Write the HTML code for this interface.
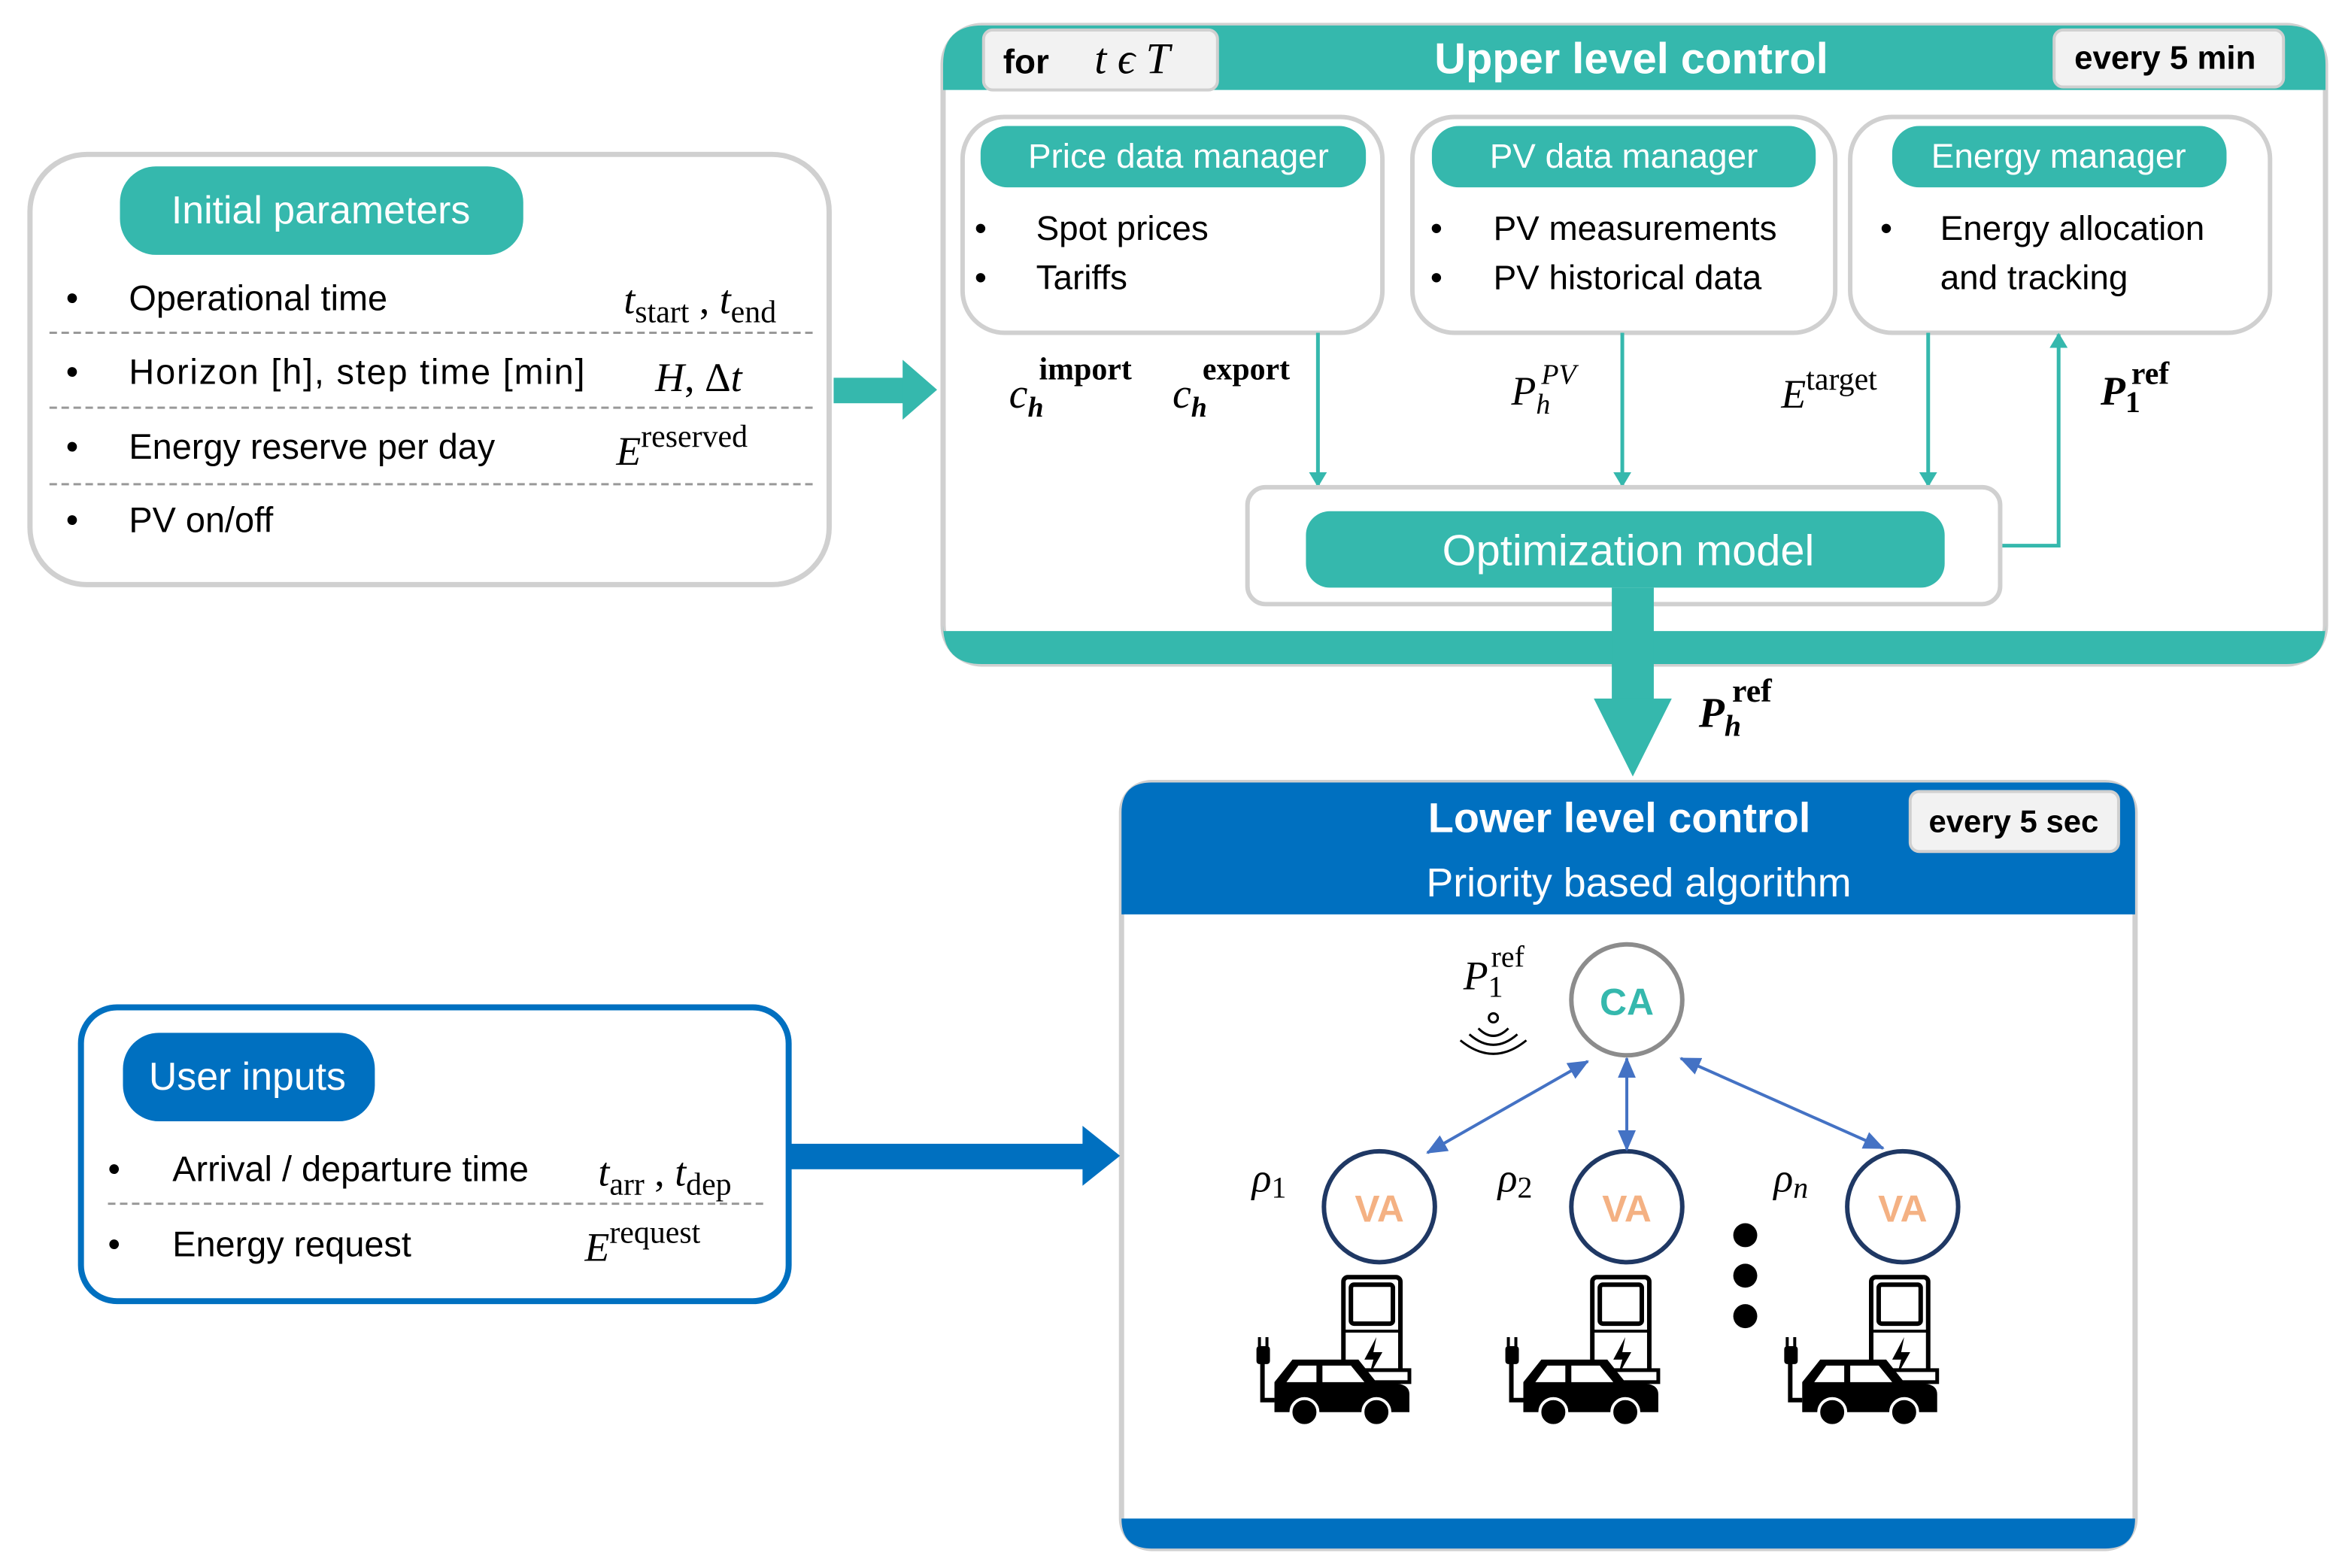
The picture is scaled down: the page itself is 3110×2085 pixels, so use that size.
<!DOCTYPE html>
<html><head><meta charset="utf-8"><style>
html,body{margin:0;padding:0;background:#fff;}
svg{display:block;}
.s{font-family:"Liberation Sans",sans-serif;}
.m{font-family:"Liberation Serif",serif;font-style:italic;}
.r{font-family:"Liberation Serif",serif;}
</style></head><body>
<svg width="3110" height="2085" viewBox="0 0 1560 1046" preserveAspectRatio="none" xmlns="http://www.w3.org/2000/svg">
<defs>
<marker id="ta" markerWidth="10" markerHeight="12" refX="9" refY="6" orient="auto" markerUnits="userSpaceOnUse"><path d="M0,0 L10,6 L0,12 Z" fill="#35b8ad"/></marker>
<marker id="ba" markerWidth="14" markerHeight="12" refX="13" refY="6" orient="auto-start-reverse" markerUnits="userSpaceOnUse"><path d="M0,0 L14,6 L0,12 Z" fill="#4472c4"/></marker>
<g id="ev">
<rect x="60" y="2" width="38" height="66" rx="3" fill="none" stroke="#000" stroke-width="3"/>
<rect x="65" y="7" width="28" height="26" rx="2" fill="none" stroke="#000" stroke-width="3"/>
<line x1="60" y1="38" x2="98" y2="38" stroke="#000" stroke-width="2"/>
<path d="M82,42 L74,57 L80,57 L77,68 L86,52 L80,52 Z" fill="#000"/>
<rect x="62" y="64" width="42" height="8" fill="#fff" stroke="#000" stroke-width="2.5"/>
<path d="M14,88 L14,72 L26,57 L70,57 L82,72 L96,73 Q104,74 104,80 L104,92 L14,92 Z" fill="#000"/>
<path d="M30,61 L42,61 L42,72 L22,72 Z M46,61 L65,61 L74,72 L46,72 Z" fill="#fff"/>
<circle cx="34" cy="92" r="9" fill="#000" stroke="#fff" stroke-width="2"/>
<circle cx="82" cy="92" r="9" fill="#000" stroke="#fff" stroke-width="2"/>
<path d="M14,84 L6,84 L6,58" fill="none" stroke="#000" stroke-width="3"/>
<rect x="2" y="48" width="9" height="12" rx="2" fill="#000"/>
<rect x="3" y="42" width="2" height="7" fill="#000"/><rect x="8" y="42" width="2" height="7" fill="#000"/>
</g>
</defs>

<!-- Initial parameters -->
<rect x="20" y="103" width="533" height="287" rx="38" fill="#fff" stroke="#d0d0d0" stroke-width="3.5"/>
<rect x="80" y="111" width="269" height="59" rx="24" fill="#35b8ad"/>
<text x="214" y="149" class="s" font-size="26" fill="#fff" text-anchor="middle">Initial parameters</text>
<g class="s" font-size="23.5" fill="#000">
<text x="44" y="207">•</text><text x="86" y="207">Operational time</text>
<text x="44" y="256">•</text><text x="86" y="256" textLength="304">Horizon [h], step time [min]</text>
<text x="44" y="306">•</text><text x="86" y="306">Energy reserve per  day</text>
<text x="44" y="355">•</text><text x="86" y="355">PV on/off</text>
</g>
<g stroke="#999" stroke-width="1.5" stroke-dasharray="5,3">
<line x1="33" y1="222" x2="543" y2="222"/><line x1="33" y1="272" x2="543" y2="272"/><line x1="33" y1="323" x2="543" y2="323"/>
</g>
<text x="416" y="209" class="m" font-size="27">t<tspan class="r" font-style="normal" font-size="21" dy="6">start</tspan><tspan dy="-6" font-style="normal"> , </tspan>t<tspan class="r" font-style="normal" font-size="21" dy="6">end</tspan></text>
<text x="437" y="261" class="m" font-size="27">H<tspan font-style="normal">, Δ</tspan>t</text>
<text x="411" y="310" class="m" font-size="27">E<tspan class="r" font-style="normal" font-size="21" dy="-12">reserved</tspan></text>

<!-- teal arrow -->
<rect x="556" y="252" width="48" height="17" fill="#35b8ad"/>
<path d="M602,240 L625,260 L602,280 Z" fill="#35b8ad"/>

<!-- Upper level -->
<rect x="629" y="17" width="922" height="426" rx="26" fill="#fff" stroke="#d0d0d0" stroke-width="3.5"/>
<path d="M655,17 L1525,17 Q1551,17 1551,43 L1551,60 L629,60 L629,43 Q629,17 655,17 Z" fill="#35b8ad"/>
<path d="M629,421 L1551,421 L1551,417 Q1551,443 1525,443 L655,443 Q629,443 629,417 Z" fill="#35b8ad"/>
<rect x="656" y="20" width="156" height="40" rx="6" fill="#f2f2f2" stroke="#d0d0d0" stroke-width="2"/>
<text x="669" y="49" class="s" font-size="23" font-weight="bold">for</text>
<text x="730" y="49" class="m" font-size="29">t ϵ T</text>
<text x="1088" y="49" class="s" font-size="29" font-weight="bold" fill="#fff" text-anchor="middle">Upper level control</text>
<rect x="1370" y="20" width="153" height="38" rx="6" fill="#f2f2f2" stroke="#d0d0d0" stroke-width="2"/>
<text x="1444" y="46" class="s" font-size="22" font-weight="bold" text-anchor="middle">every 5 min</text>

<g fill="#fff" stroke="#d0d0d0" stroke-width="3">
<rect x="642" y="78" width="280" height="144" rx="28"/>
<rect x="942" y="78" width="282" height="144" rx="28"/>
<rect x="1234" y="78" width="280" height="144" rx="28"/>
</g>
<g fill="#35b8ad">
<rect x="654" y="84" width="257" height="41" rx="18"/>
<rect x="955" y="84" width="256" height="41" rx="18"/>
<rect x="1262" y="84" width="223" height="41" rx="18"/>
</g>
<g class="s" font-size="23" fill="#fff" text-anchor="middle">
<text x="786" y="112">Price data manager</text>
<text x="1083" y="112">PV data manager</text>
<text x="1373" y="112">Energy manager</text>
</g>
<g class="s" font-size="23" fill="#000">
<text x="650" y="160">•</text><text x="691" y="160">Spot prices</text>
<text x="650" y="193">•</text><text x="691" y="193">Tariffs</text>
<text x="954" y="160">•</text><text x="996" y="160">PV measurements</text>
<text x="954" y="193">•</text><text x="996" y="193">PV historical data</text>
<text x="1254" y="160">•</text><text x="1294" y="160">Energy allocation</text>
<text x="1294" y="193">and tracking</text>
</g>

<g stroke="#35b8ad" stroke-width="2.5" fill="none">
<line x1="879" y1="222" x2="879" y2="324" marker-end="url(#ta)"/>
<line x1="1082" y1="222" x2="1082" y2="324" marker-end="url(#ta)"/>
<line x1="1286" y1="222" x2="1286" y2="324" marker-end="url(#ta)"/>
<path d="M1334,364 L1373,364 L1373,223" marker-end="url(#ta)"/>
</g>

<rect x="832" y="325" width="502" height="78" rx="12" fill="#fff" stroke="#d0d0d0" stroke-width="3"/>
<rect x="871" y="341" width="426" height="51" rx="16" fill="#35b8ad"/>
<text x="1086" y="377" class="s" font-size="29" fill="#fff" text-anchor="middle">Optimization model</text>

<text x="673" y="272" class="m" font-size="28">c<tspan font-size="19" font-weight="bold" dy="6">h</tspan><tspan class="r" font-style="normal" font-weight="bold" font-size="21" dx="-3" dy="-25">import</tspan></text>
<text x="782" y="272" class="m" font-size="28">c<tspan font-size="19" font-weight="bold" dy="6">h</tspan><tspan class="r" font-style="normal" font-weight="bold" font-size="21" dx="-3" dy="-25">export</tspan></text>
<text x="1008" y="270" class="m" font-size="27">P<tspan font-size="19" dy="6">h</tspan><tspan font-size="19" dx="-6" dy="-20">PV</tspan></text>
<text x="1188" y="272" class="m" font-size="27">E<tspan class="r" font-style="normal" font-size="21" dy="-12">target</tspan></text>
<text x="1401" y="270" class="m" font-size="27" font-weight="bold">P<tspan class="r" font-style="normal" font-size="20" dy="5">1</tspan><tspan class="r" font-style="normal" font-size="21" dx="-6" dy="-19">ref</tspan></text>

<!-- big down arrow -->
<rect x="1075" y="392" width="28" height="76" fill="#35b8ad"/>
<path d="M1063,466 L1115,466 L1089,518 Z" fill="#35b8ad"/>
<text x="1133" y="485" class="m" font-size="28" font-weight="bold">P<tspan font-size="20" dy="6">h</tspan><tspan class="r" font-style="normal" font-size="22" dx="-6" dy="-23">ref</tspan></text>

<!-- Lower level -->
<rect x="748" y="522" width="676" height="511" rx="20" fill="#fff" stroke="#d0d0d0" stroke-width="3.5"/>
<path d="M768,522 L1404,522 Q1424,522 1424,542 L1424,610 L748,610 L748,542 Q748,522 768,522 Z" fill="#0070c0"/>
<path d="M748,1013 L1424,1013 L1424,1013 Q1424,1033 1404,1033 L768,1033 Q748,1033 748,1013 Z" fill="#0070c0"/>
<text x="1080" y="555" class="s" font-size="28" font-weight="bold" fill="#fff" text-anchor="middle">Lower level control</text>
<text x="1093" y="598" class="s" font-size="27" fill="#fff" text-anchor="middle">Priority based algorithm</text>
<rect x="1274" y="528" width="139" height="40" rx="6" fill="#f2f2f2" stroke="#d0d0d0" stroke-width="2"/>
<text x="1343" y="555" class="s" font-size="21" font-weight="bold" text-anchor="middle">every 5 sec</text>

<circle cx="1085" cy="667" r="37" fill="#fff" stroke="#8c8c8c" stroke-width="3"/>
<text x="1085" y="677" class="s" font-size="25" font-weight="bold" fill="#35b8ad" text-anchor="middle">CA</text>
<g fill="#fff" stroke="#1f3864" stroke-width="3">
<circle cx="920" cy="805" r="37"/><circle cx="1085" cy="805" r="37"/><circle cx="1269" cy="805" r="37"/>
</g>
<g class="s" font-size="25" font-weight="bold" fill="#f4b183" text-anchor="middle">
<text x="920" y="815">VA</text><text x="1085" y="815">VA</text><text x="1269" y="815">VA</text>
</g>
<g stroke="#4472c4" stroke-width="2">
<line x1="1059" y1="708" x2="952" y2="769" marker-start="url(#ba)" marker-end="url(#ba)"/>
<line x1="1085" y1="706" x2="1085" y2="767" marker-start="url(#ba)" marker-end="url(#ba)"/>
<line x1="1121" y1="706" x2="1256" y2="766" marker-start="url(#ba)" marker-end="url(#ba)"/>
</g>
<text x="976" y="660" class="m" font-size="27">P<tspan class="r" font-style="normal" font-size="20" dy="5">1</tspan><tspan class="r" font-style="normal" font-size="20" dx="-8" dy="-20">ref</tspan></text>
<g fill="none" stroke="#000" stroke-width="1.5">
<circle cx="996" cy="679" r="3"/>
<path d="M986,686 Q996,696 1006,686"/>
<path d="M980,690 Q996,704 1012,690"/>
<path d="M974,694 Q996,712 1018,694"/>
</g>
<text x="835" y="795" class="m" font-size="27">ρ<tspan class="r" font-style="normal" font-size="20" dy="4">1</tspan></text>
<text x="999" y="795" class="m" font-size="27">ρ<tspan class="r" font-style="normal" font-size="20" dy="4">2</tspan></text>
<text x="1183" y="795" class="m" font-size="27">ρ<tspan font-size="20" dy="4">n</tspan></text>
<g fill="#000"><circle cx="1164" cy="824" r="8"/><circle cx="1164" cy="851" r="8"/><circle cx="1164" cy="878" r="8"/></g>
<use href="#ev" transform="translate(836,850)"/>
<use href="#ev" transform="translate(1002,850)"/>
<use href="#ev" transform="translate(1188,850)"/>

<!-- User inputs -->
<rect x="54" y="672" width="472" height="196" rx="24" fill="#fff" stroke="#0070c0" stroke-width="4"/>
<rect x="82" y="689" width="168" height="59" rx="24" fill="#0070c0"/>
<text x="165" y="727" class="s" font-size="26" fill="#fff" text-anchor="middle">User inputs</text>
<g class="s" font-size="23.5" fill="#000">
<text x="72" y="788">•</text><text x="115" y="788">Arrival / departure time</text>
<text x="72" y="838">•</text><text x="115" y="838">Energy request</text>
</g>
<line x1="72" y1="803" x2="512" y2="803" stroke="#999" stroke-width="1.5" stroke-dasharray="5,3"/>
<text x="399" y="791" class="m" font-size="27">t<tspan class="r" font-style="normal" font-size="21" dy="6">arr</tspan><tspan font-style="normal" dy="-6"> , </tspan>t<tspan class="r" font-style="normal" font-size="21" dy="6">dep</tspan></text>
<text x="390" y="841" class="m" font-size="27">E<tspan class="r" font-style="normal" font-size="21" dy="-12">request</tspan></text>

<rect x="527" y="763" width="197" height="17" fill="#0070c0"/>
<path d="M722,751 L747,771 L722,791 Z" fill="#0070c0"/>
</svg>
</body></html>
